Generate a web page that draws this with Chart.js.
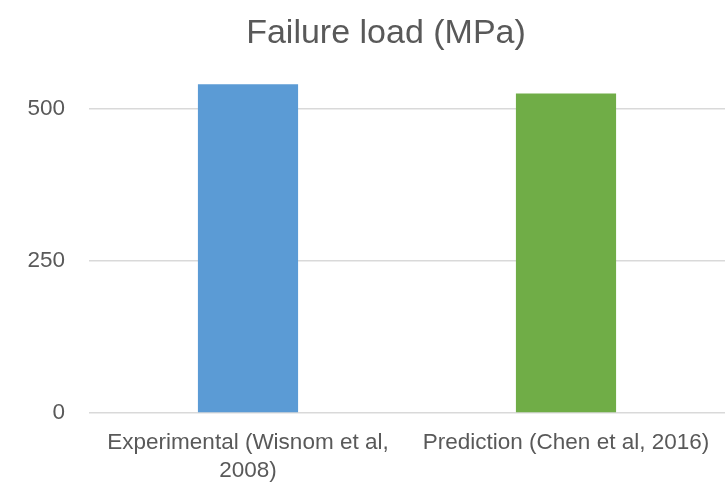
<!DOCTYPE html>
<html>
<head>
<meta charset="utf-8">
<script src="https://cdn.jsdelivr.net/npm/chart.js@4/dist/chart.umd.min.js"></script>
<style>
  html, body { margin: 0; padding: 0; background: #ffffff; }
  #wrap { width: 727px; height: 488px; }
</style>
</head>
<body>
<div id="wrap"><canvas id="c"></canvas></div>
<script>
// Failure load comparison: experiment vs. prediction
const categories = [
  ["Experimental (Wisnom et al,", "2008)"],
  "Prediction (Chen et al, 2016)"
];
const failureLoad = [541, 526];
const barColors = ["#5B9BD5", "#70AD47"];
const yTicks = [0, 250, 500];

const textColor = "#595959";
const fontFamily = "'Liberation Sans', Arial, sans-serif";

// nudge the title block to the right so it sits a little off the canvas centre
const titleOffset = {
  id: "titleOffset",
  afterLayout(chart) {
    const t = chart.titleBlock;
    if (t) { t.left += 10; t.right += 10; }
  }
};

new Chart(document.getElementById("c"), {
  type: "bar",
  data: {
    labels: categories,
    datasets: [{
      label: "Failure load (MPa)",
      data: failureLoad,
      backgroundColor: barColors,
      borderWidth: 0,
      categoryPercentage: 1.0,
      barPercentage: 0.315
    }]
  },
  plugins: [titleOffset],
  options: {
    responsive: true,
    maintainAspectRatio: false,
    animation: false,
    devicePixelRatio: 1,
    layout: { padding: { left: 27, right: 2, top: 0, bottom: 4 } },
    plugins: {
      legend: { display: false },
      tooltip: { enabled: false },
      title: {
        display: true,
        text: "Failure load (MPa)",
        color: textColor,
        font: { family: fontFamily, size: 34, weight: "normal" },
        padding: { top: 13, bottom: 19 }
      }
    },
    scales: {
      x: {
        grid: { display: false, drawTicks: false },
        border: { display: false },
        afterFit: scale => { scale.height = 71; },
        ticks: {
          color: textColor,
          font: { family: fontFamily, size: 22.5, lineHeight: 1.25 },
          padding: 16,
          maxRotation: 0,
          autoSkip: false
        }
      },
      y: {
        min: 0,
        max: 560,
        border: { display: false },
        grid: { color: "#D9D9D9", lineWidth: 1.5, drawTicks: false },
        afterBuildTicks: scale => {
          scale.ticks = yTicks.map(v => ({ value: v }));
        },
        afterFit: scale => { scale.width = 62; },
        ticks: {
          color: textColor,
          font: { family: fontFamily, size: 22.5 },
          padding: 24
        }
      }
    }
  }
});
</script>
</body>
</html>
